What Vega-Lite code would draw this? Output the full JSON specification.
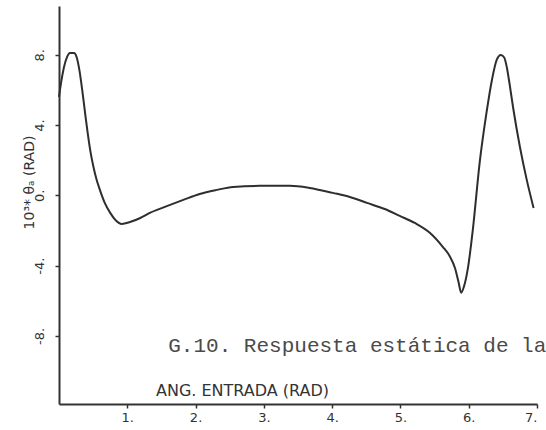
{
  "$schema": "https://vega.github.io/schema/vega-lite/v6.json",
  "width": 478,
  "height": 398,
  "autosize": {"type": "none"},
  "padding": {"left": 59, "top": 6, "right": 9, "bottom": 26},
  "background": "white",
  "config": {
    "view": {"stroke": null},
    "axis": {
      "grid": false,
      "domainColor": "#333333",
      "domainWidth": 2,
      "tickColor": "#333333",
      "tickWidth": 1.5,
      "tickSize": 4,
      "labelFont": "DejaVu Sans",
      "labelColor": "#333333",
      "titleFont": "DejaVu Sans",
      "titleColor": "#333333",
      "titleFontWeight": "normal"
    }
  },
  "data": {
    "values": [
      {"ang": 0.0, "theta": 5.60},
      {"ang": 0.03, "theta": 6.40},
      {"ang": 0.07, "theta": 7.25},
      {"ang": 0.12, "theta": 7.90},
      {"ang": 0.16, "theta": 8.11},
      {"ang": 0.22, "theta": 8.11},
      {"ang": 0.26, "theta": 7.85},
      {"ang": 0.30, "theta": 7.10},
      {"ang": 0.34, "theta": 6.00},
      {"ang": 0.38, "theta": 4.75},
      {"ang": 0.42, "theta": 3.55},
      {"ang": 0.46, "theta": 2.50},
      {"ang": 0.50, "theta": 1.70},
      {"ang": 0.55, "theta": 0.90},
      {"ang": 0.60, "theta": 0.30},
      {"ang": 0.67, "theta": -0.43},
      {"ang": 0.75, "theta": -1.00},
      {"ang": 0.83, "theta": -1.42},
      {"ang": 0.92, "theta": -1.63},
      {"ang": 1.04, "theta": -1.52},
      {"ang": 1.19, "theta": -1.29},
      {"ang": 1.33, "theta": -1.00},
      {"ang": 1.55, "theta": -0.66},
      {"ang": 1.82, "theta": -0.26},
      {"ang": 2.06, "theta": 0.08},
      {"ang": 2.31, "theta": 0.31},
      {"ang": 2.55, "theta": 0.48},
      {"ang": 2.94, "theta": 0.54},
      {"ang": 3.38, "theta": 0.54},
      {"ang": 3.67, "theta": 0.42},
      {"ang": 4.01, "theta": 0.14},
      {"ang": 4.26, "theta": -0.09},
      {"ang": 4.51, "theta": -0.43},
      {"ang": 4.77, "theta": -0.78},
      {"ang": 4.99, "theta": -1.17},
      {"ang": 5.21, "theta": -1.57},
      {"ang": 5.43, "theta": -2.13},
      {"ang": 5.62, "theta": -2.93},
      {"ang": 5.72, "theta": -3.45},
      {"ang": 5.80, "theta": -4.15},
      {"ang": 5.85, "theta": -4.92},
      {"ang": 5.89, "theta": -5.54},
      {"ang": 5.93, "theta": -5.20},
      {"ang": 5.99, "theta": -4.10},
      {"ang": 6.06, "theta": -1.97},
      {"ang": 6.16, "theta": 1.85},
      {"ang": 6.26, "theta": 4.69},
      {"ang": 6.34, "theta": 6.57},
      {"ang": 6.41, "theta": 7.71},
      {"ang": 6.47, "theta": 7.99},
      {"ang": 6.52, "theta": 7.85},
      {"ang": 6.56, "theta": 7.25},
      {"ang": 6.60, "theta": 6.30},
      {"ang": 6.65, "theta": 5.00},
      {"ang": 6.75, "theta": 2.75},
      {"ang": 6.85, "theta": 0.88},
      {"ang": 6.95, "theta": -0.72}
    ]
  },
  "layer": [
    {
      "mark": {"type": "line", "interpolate": "monotone", "color": "#2e2e2e", "strokeWidth": 2},
      "encoding": {
        "x": {
          "field": "ang",
          "type": "quantitative",
          "scale": {"domain": [0, 7], "nice": false},
          "axis": {
            "values": [1, 2, 3, 4, 5, 6, 7],
            "labelExpr": "datum.value + '.'",
            "labelFontSize": 13,
            "labelPadding": 3,
            "title": "ANG. ENTRADA (RAD)",
            "titleFontSize": 16,
            "titleX": 183,
            "titleY": -14,
            "titleAlign": "center",
            "titleBaseline": "middle"
          }
        },
        "y": {
          "field": "theta",
          "type": "quantitative",
          "scale": {"domain": [-11.88, 10.78], "nice": false, "zero": false},
          "axis": {
            "values": [-8, -4, 0, 4, 8],
            "labelExpr": "datum.value + '.'",
            "labelAngle": 270,
            "labelFontSize": 13,
            "labelPadding": 9,
            "title": "10³* θₐ (RAD)",
            "titleFontSize": 14,
            "titleAngle": 270,
            "titleX": -30,
            "titleY": 176,
            "titleAlign": "center",
            "titleBaseline": "middle"
          }
        }
      }
    },
    {
      "data": {"values": [{"caption": "G.10. Respuesta estática de la"}]},
      "mark": {
        "type": "text",
        "font": "Liberation Mono",
        "fontSize": 21,
        "color": "#4a4a4a",
        "align": "left",
        "baseline": "alphabetic"
      },
      "encoding": {
        "x": {"datum": 1.6, "type": "quantitative"},
        "y": {"datum": -8.92, "type": "quantitative"},
        "text": {"field": "caption"}
      }
    }
  ]
}
